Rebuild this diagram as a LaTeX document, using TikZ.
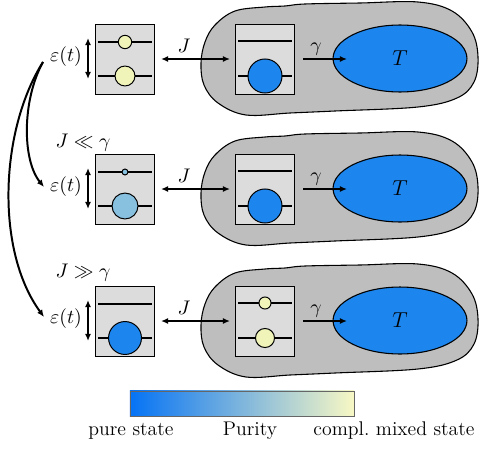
\documentclass[tikz,border=0pt]{standalone}
\usetikzlibrary{arrows.meta,shapes.geometric}
\definecolor{boxgray}{RGB}{220,220,220}
\definecolor{blobgray}{RGB}{190,190,190}
\definecolor{pureblue}{RGB}{28,134,238}
\definecolor{mixyellow}{RGB}{240,244,184}
\definecolor{midblue}{RGB}{136,192,224}
\definecolor{barleft}{RGB}{5,115,245}
\definecolor{barmid}{RGB}{122,186,220}
\definecolor{barright}{RGB}{248,248,196}
\begin{document}
\begin{tikzpicture}[x=0.5556pt,y=-0.5556pt,
  every node/.style={font=\fontsize{11}{13}\selectfont},
  qbox/.style={draw=black, line width=0.55pt, fill=boxgray, minimum width=33.3pt, minimum height=39.4pt, inner sep=0pt},
  level/.style={line width=1.1pt},
  dot/.style={circle, draw=black, line width=0.55pt, inner sep=0pt},
  blob/.style={draw=black, line width=0.6pt, fill=blobgray},
  bath/.style={ellipse, draw=black, line width=0.6pt, fill=pureblue, minimum width=74.4pt, minimum height=37.2pt, inner sep=0pt, font=\fontsize{12}{14}\selectfont},
  arr/.style={line width=1.1pt, -{Latex[length=4pt,width=3.4pt]}},
  darr/.style={line width=1.1pt, {Latex[length=4pt,width=3.4pt]}-{Latex[length=4pt,width=3.4pt]}},
  lbl/.style={inner sep=1pt}
]
\useasboundingbox (0,0) rectangle (480,451);

\def\blobpts{(201,63) (205,42) (215,25) (235,11) (265,7) (285,6) (305,4) (360,3) (418,2) (452,11) (472,32) (478,57) (474,82) (457,98) (418,107) (335,111) (290,113) (246,115) (218,103) (204,85)}

% ---------- row 1 ----------
\begin{scope}
  \draw[blob] plot[smooth cycle, tension=0.6] coordinates {\blobpts};
  \node[qbox] (lbA) at (125,59.5) {};
  \draw[level] (98,42) -- (152,42);
  \draw[level] (98,76) -- (152,76);
  \node[dot, fill=mixyellow, minimum size=7.4pt] (luA) at (125,42) {};
  \node[dot, fill=mixyellow, minimum size=11.1pt] (llA) at (125,76) {};
  \node[qbox] (ibA) at (265,59.5) {};
  \draw[level] (238,41) -- (292,41);
  \draw[level] (238,76) -- (292,76);
  \node[dot, fill=pureblue, minimum size=18.9pt] (ilA) at (265,76) {};
  \node[bath] (TA) at (400,58.5) {$T$};
  \node[lbl] (epsA) at (66,57) {$\varepsilon(t)$};
  \draw[darr] (88,38) -- (88,79);
  \coordinate (jAs) at (161,59);
  \coordinate (jAe) at (230,59);
  \draw[darr] (jAs) -- (jAe);
  \node[lbl] (JA) at (184,46) {$J$};
  \coordinate (gAs) at (303,59);
  \coordinate (gAe) at (347,59);
  \draw[arr] (gAs) -- (gAe);
  \node[lbl] (gA) at (316,49) {$\gamma$};
\end{scope}

% ---------- row 2 ----------
\begin{scope}[shift={(0,130)}]
  \draw[blob] plot[smooth cycle, tension=0.6] coordinates {\blobpts};
  \node[qbox] (lbB) at (125,59.5) {};
  \draw[level] (98,42) -- (152,42);
  \draw[level] (98,76) -- (152,76);
  \node[dot, fill=midblue, minimum size=3.3pt] (luB) at (125,42) {};
  \node[dot, fill=midblue, minimum size=14.4pt] (llB) at (125,76) {};
  \node[qbox] (ibB) at (265,59.5) {};
  \draw[level] (238,41) -- (292,41);
  \draw[level] (238,76) -- (292,76);
  \node[dot, fill=pureblue, minimum size=18.9pt] (ilB) at (265,76) {};
  \node[bath] (TB) at (400,58.5) {$T$};
  \node[lbl] (epsB) at (66,57) {$\varepsilon(t)$};
  \draw[darr] (88,38) -- (88,79);
  \coordinate (jBs) at (161,59);
  \coordinate (jBe) at (230,59);
  \draw[darr] (jBs) -- (jBe);
  \node[lbl] (JB) at (184,46) {$J$};
  \coordinate (gBs) at (303,59);
  \coordinate (gBe) at (347,59);
  \draw[arr] (gBs) -- (gBe);
  \node[lbl] (gB) at (316,49) {$\gamma$};
  \node[lbl] (condB) at (83,13) {$J \ll \gamma$};
\end{scope}

% ---------- row 3 ----------
\begin{scope}[shift={(0,262)}]
  \draw[blob] plot[smooth cycle, tension=0.6] coordinates {\blobpts};
  \node[qbox] (lbC) at (125,59.5) {};
  \draw[level] (98,42) -- (152,42);
  \draw[level] (98,76) -- (152,76);
  \node[dot, fill=pureblue, minimum size=18.3pt] (llC) at (125,76) {};
  \node[qbox] (ibC) at (265,59.5) {};
  \draw[level] (238,41) -- (292,41);
  \draw[level] (238,76) -- (292,76);
  \node[dot, fill=mixyellow, minimum size=6.7pt] (iuC) at (265,41) {};
  \node[dot, fill=mixyellow, minimum size=10.6pt] (ilC) at (265,76) {};
  \node[bath] (TC) at (400,58.5) {$T$};
  \node[lbl] (epsC) at (66,57) {$\varepsilon(t)$};
  \draw[darr] (88,38) -- (88,79);
  \coordinate (jCs) at (161,59);
  \coordinate (jCe) at (230,59);
  \draw[darr] (jCs) -- (jCe);
  \node[lbl] (JC) at (184,46) {$J$};
  \coordinate (gCs) at (303,59);
  \coordinate (gCe) at (347,59);
  \draw[arr] (gCs) -- (gCe);
  \node[lbl] (gC) at (316,49) {$\gamma$};
  \node[lbl] (condC) at (83,11) {$J \gg \gamma$};
\end{scope}

% ---------- curved arrows ----------
\coordinate (cs) at (43,62);
\coordinate (ceB) at (44,187);
\coordinate (ceC) at (44,317);
\draw[arr] (cs) .. controls (22,100) and (22,160) .. (ceB);
\draw[arr] (cs) .. controls (0,130) and (-5,250) .. (ceC);

% ---------- colour bar ----------
\node[draw=black!60, line width=0.5pt, minimum width=124.5pt, minimum height=13.9pt, inner sep=0pt,
      left color=barleft, middle color=barmid, right color=barright] (cbar) at (242,403.5) {};
\node[lbl] (pure) at (131,431) {pure state};
\node[lbl] (pur) at (250,431) {Purity};
\node[lbl] (mixed) at (394,431) {compl.\ mixed state};
\end{tikzpicture}
\end{document}
